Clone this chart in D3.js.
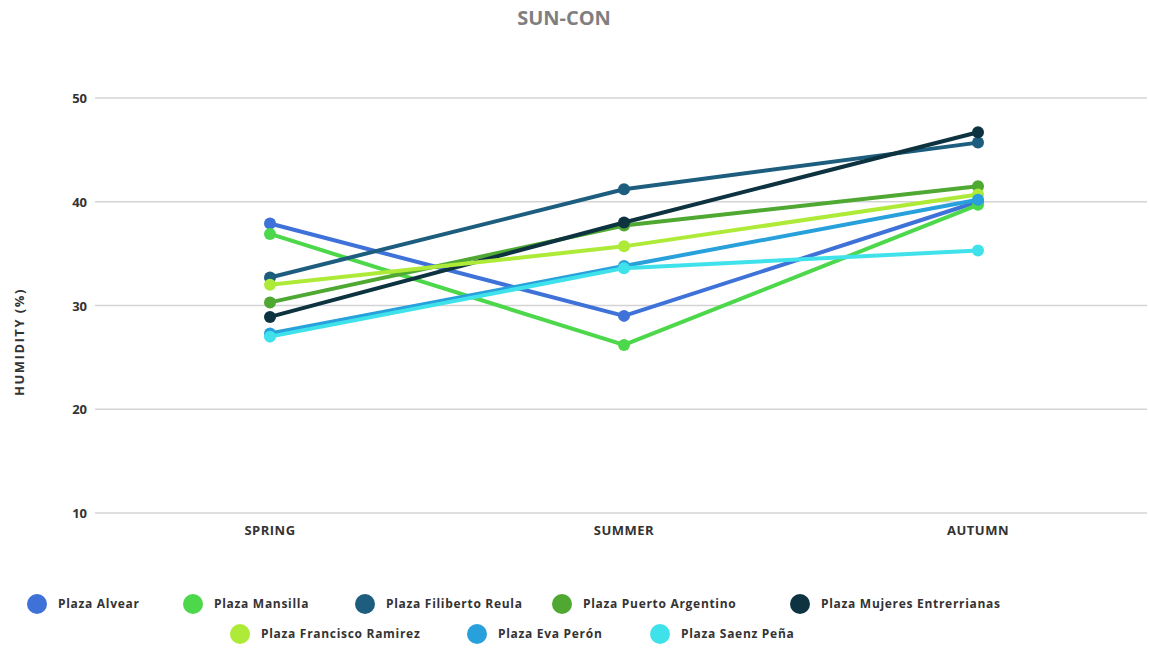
<!DOCTYPE html>
<html>
<head>
<meta charset="utf-8">
<script src="https://cdn.jsdelivr.net/npm/d3@7"></script>
<style>
  body { margin: 0; background: #fff; }
  svg { font-family: "Open Sans", "Noto Sans", sans-serif; }
</style>
</head>
<body>
<svg width="1149" height="648"></svg>
<script>
const seasons = ["SPRING", "SUMMER", "AUTUMN"];
const yTicks = [10, 20, 30, 40, 50];

const plazas = ["Plaza Alvear", "Plaza Mansilla", "Plaza Filiberto Reula", "Plaza Puerto Argentino",
  "Plaza Mujeres Entrerrianas", "Plaza Francisco Ramirez", "Plaza Eva Perón", "Plaza Saenz Peña"];
const plazaColors = ["#3f72d8", "#4dd84b", "#1d5d7e", "#4ea832", "#0e3340", "#aeea38", "#27a0dc", "#3fe2ea"];

const alvear    = [37.9, 29.0, 40.0];
const mansilla  = [36.9, 26.2, 39.7];
const filiberto = [32.7, 41.2, 45.7];
const puerto    = [30.3, 37.7, 41.5];
const mujeres   = [28.9, 38.0, 46.7];
const francisco = [32.0, 35.7, 40.7];
const evaPeron  = [27.3, 33.8, 40.2];
const saenz     = [27.0, 33.6, 35.3];

const seriesValues = [alvear, mansilla, filiberto, puerto, mujeres, francisco, evaPeron, saenz];

const svg = d3.select("svg");
const margin = {left: 95, right: 2, top: 98, bottom: 135};
const width = +svg.attr("width"), height = +svg.attr("height");

const x = d3.scalePoint().domain(seasons).range([270, 978]);
const y = d3.scaleLinear().domain([10, 50]).range([height - margin.bottom, margin.top]);

// title
svg.append("text")
  .attr("x", 564).attr("y", 25)
  .attr("text-anchor", "middle")
  .attr("font-size", 20).attr("font-weight", "bold")
  .attr("fill", "#7f7f7f")
  .text("SUN-CON");

// grid
svg.append("g")
  .selectAll("line")
  .data(yTicks)
  .join("line")
  .attr("x1", margin.left).attr("x2", width - margin.right)
  .attr("y1", d => y(d)).attr("y2", d => y(d))
  .attr("stroke", "#d4d4d4").attr("stroke-width", 1.5);

// y tick labels
svg.append("g")
  .selectAll("text")
  .data(yTicks)
  .join("text")
  .attr("x", 87).attr("y", d => y(d) + 5)
  .attr("text-anchor", "end")
  .attr("font-size", 13).attr("font-weight", "bold")
  .attr("fill", "#333")
  .text(d => d);

// x labels
svg.append("g")
  .selectAll("text")
  .data(seasons)
  .join("text")
  .attr("x", d => x(d)).attr("y", 535)
  .attr("text-anchor", "middle")
  .attr("font-size", 13).attr("font-weight", "bold")
  .attr("letter-spacing", 0.5)
  .attr("fill", "#333")
  .text(d => d);

// y axis title
svg.append("text")
  .attr("transform", "translate(24,342) rotate(-90)")
  .attr("text-anchor", "middle")
  .attr("font-size", 13).attr("font-weight", "bold")
  .attr("letter-spacing", 1.5)
  .attr("fill", "#333")
  .text("HUMIDITY (%)");

// lines
const line = d3.line().x((d, i) => x(seasons[i])).y(d => y(d));
const series = svg.append("g")
  .selectAll("g")
  .data(seriesValues)
  .join("g");

series.append("path")
  .attr("d", d => line(d))
  .attr("fill", "none")
  .attr("stroke", (d, i) => plazaColors[i])
  .attr("stroke-width", 4)
  .attr("stroke-linejoin", "round");

series.selectAll("circle")
  .data((d, i) => d.map((v, j) => ({v, j, c: plazaColors[i]})))
  .join("circle")
  .attr("cx", d => x(seasons[d.j])).attr("cy", d => y(d.v))
  .attr("r", 6)
  .attr("fill", d => d.c);

// legend
const legendPos = [
  [37, 604], [193, 604], [365, 604], [562, 604], [800, 604],
  [240, 634], [477, 634], [660, 634]
];
const legend = svg.append("g")
  .selectAll("g")
  .data(plazas)
  .join("g")
  .attr("transform", (d, i) => `translate(${legendPos[i][0]},${legendPos[i][1]})`);

legend.append("circle")
  .attr("r", 10)
  .attr("fill", (d, i) => plazaColors[i]);

legend.append("text")
  .attr("x", 21).attr("y", 4)
  .attr("font-size", 12).attr("font-weight", "bold")
  .attr("letter-spacing", 0.7)
  .attr("fill", "#333")
  .text(d => d);
</script>
</body>
</html>
